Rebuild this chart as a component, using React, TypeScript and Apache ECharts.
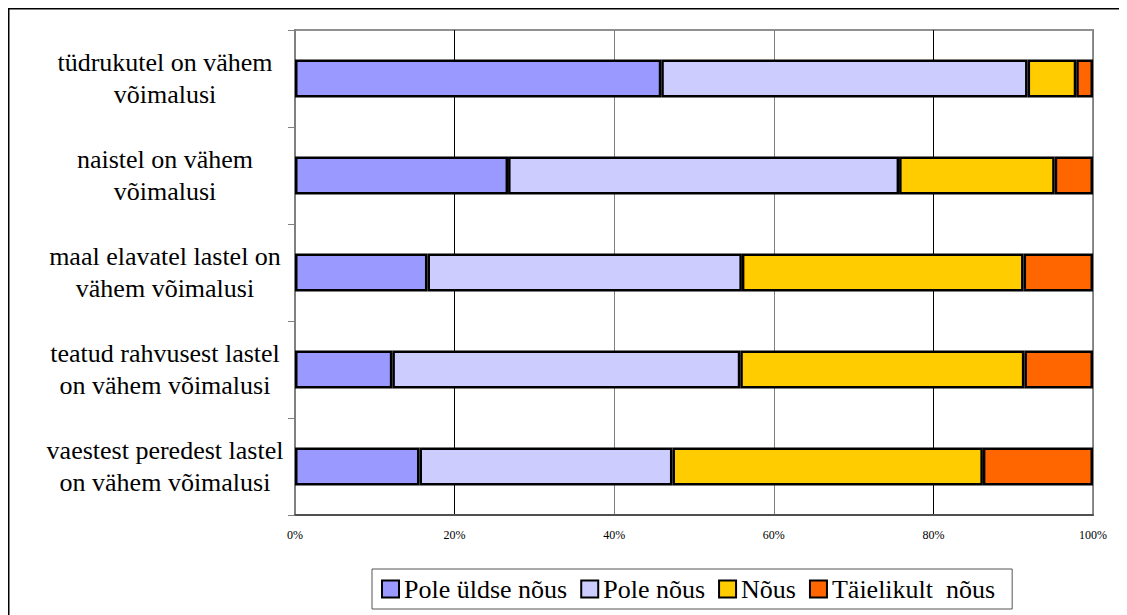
import React, { useEffect, useRef } from "react";
import * as echarts from "echarts";

const categories = [
  "tüdrukutel on vähem\nvõimalusi",
  "naistel on vähem\nvõimalusi",
  "maal elavatel lastel on\nvähem võimalusi",
  "teatud rahvusest lastel\non vähem võimalusi",
  "vaestest peredest lastel\non vähem võimalusi",
];
const seriesNames = ["Pole üldse nõus", "Pole nõus", "Nõus", "Täielikult  nõus"];
const poleYldseNous = [45.9, 26.7, 16.6, 12.2, 15.6];
const poleNous = [45.9, 49.0, 39.4, 43.6, 31.7];
const nous = [6.1, 19.5, 35.3, 35.6, 38.9];
const taielikultNous = [2.1, 4.8, 8.7, 8.6, 13.8];
const colors = ["#9999FF", "#CCCCFF", "#FFCC00", "#FF6600"];
const xTicks = [0, 20, 40, 60, 80, 100];

const FONT = "Liberation Serif";

export default function App() {
  const ref = useRef<HTMLDivElement>(null);
  useEffect(() => {
    if (!ref.current) return;
    const chart = echarts.init(ref.current, null, { renderer: "svg" });
    const values = [poleYldseNous, poleNous, nous, taielikultNous];
    chart.setOption({
      animation: false,
      backgroundColor: "#ffffff",
      textStyle: { fontFamily: FONT },
      graphic: [
        {
          type: "rect",
          shape: { x: 0.75, y: 0.75, width: 1300, height: 800 },
          style: { fill: "none", stroke: "#000", lineWidth: 1.5 },
          silent: true,
        },
      ],
      grid: {
        left: 287,
        right: 34,
        top: 22,
        bottom: 100,
        show: true,
        borderColor: "#909090",
        borderWidth: 2,
        backgroundColor: "transparent",
      },
      legend: {
        left: 364,
        top: 561,
        itemWidth: 17,
        itemHeight: 17,
        itemGap: 13,
        padding: [7, 17, 7, 9],
        borderColor: "#555",
        borderWidth: 1,
        backgroundColor: "#fff",
        icon: "rect",
        textStyle: { fontFamily: FONT, fontSize: 26, color: "#000" },
        data: seriesNames,
      },
      xAxis: {
        type: "value",
        min: 0,
        max: 100,
        interval: 20,
        axisLine: { show: true, lineStyle: { color: "#505050", width: 2 } },
        axisTick: { show: false },
        axisLabel: {
          formatter: (v: number) => (xTicks.includes(v) ? v + "%" : ""),
          fontFamily: FONT,
          fontSize: 12,
          color: "#000",
          margin: 14,
        },
        splitLine: {
          show: true,
          lineStyle: {
            color: ["#808080", "#000000", "#808080", "#808080", "#000000", "#808080"],
            width: 1,
          },
        },
      },
      yAxis: {
        type: "category",
        inverse: true,
        data: categories,
        axisLine: { show: true, lineStyle: { color: "#808080", width: 2 } },
        axisTick: { show: true, length: 7, lineStyle: { color: "#808080", width: 1 } },
        axisLabel: {
          fontFamily: FONT,
          fontSize: 26,
          color: "#000",
          align: "center",
          margin: 130,
          lineHeight: 32,
        },
      },
      series: seriesNames.map((name, i) => ({
        name,
        type: "bar",
        stack: "total",
        barWidth: 38,
        data: values[i],
        itemStyle: { color: colors[i], borderColor: "#000", borderWidth: 2.5 },
      })),
    });
    return () => chart.dispose();
  }, []);
  return <div ref={ref} style={{ width: 1119, height: 607 }} />;
}
